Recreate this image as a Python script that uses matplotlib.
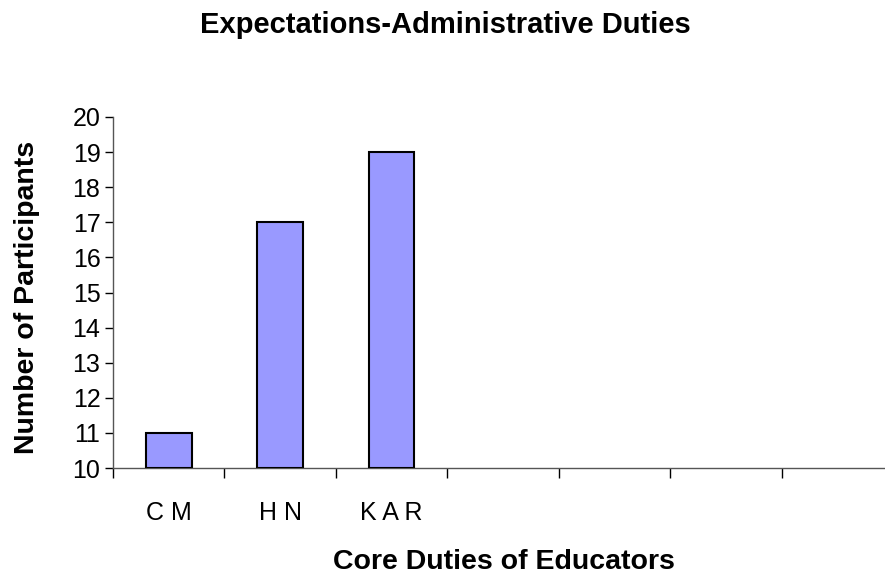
import matplotlib
matplotlib.use("Agg")
import matplotlib.pyplot as plt
import numpy as np

# data
categories = ["C M", "H N", "K A R", "", "", "", ""]
participants = [11, 17, 19]
y_ticks = list(range(10, 21))

plt.rcParams['font.family'] = ['Liberation Sans', 'DejaVu Sans']

fig = plt.figure(figsize=(8.85, 5.76), dpi=100)
ax = fig.add_axes([113 / 885, 108 / 576, 780 / 885, 351 / 576])

x = np.arange(len(participants))
ax.bar(x, np.array(participants) - 10, bottom=10, width=0.41,
       color='#9999FF', edgecolor='black', linewidth=1.5, zorder=3)

ax.set_xlim(-0.5, len(categories) - 0.5)
ax.set_ylim(10, 20)
ax.set_yticks(y_ticks)
ax.tick_params(axis='y', labelsize=18, length=6, width=1, direction='out', pad=3)

# category labels at slot centres, tick marks at slot borders
ax.set_xticks(np.arange(len(categories)))
ax.set_xticklabels(categories)
ax.tick_params(axis='x', which='major', length=0, labelsize=18, pad=24)
ax.set_xticks(np.arange(len(categories) + 1) - 0.5, minor=True)
ax.tick_params(axis='x', which='minor', length=7, width=1, direction='out')

for side in ['top', 'right']:
    ax.spines[side].set_visible(False)
for side in ['left', 'bottom']:
    ax.spines[side].set_color('#555555')
    ax.spines[side].set_linewidth(1)

fig.text(445 / 885, 1 - 25 / 576, "Expectations-Administrative Duties",
         ha='center', va='center', fontsize=21, fontweight='bold')
fig.text(504 / 885, 1 - 569 / 576, "Core Duties of Educators",
         ha='center', va='baseline', fontsize=20.5, fontweight='bold')
fig.text(27 / 885, 1 - 297 / 576, "Number of Participants", rotation=90,
         ha='center', va='center', fontsize=20.5, fontweight='bold')

fig.savefig("out.png", dpi=100)
